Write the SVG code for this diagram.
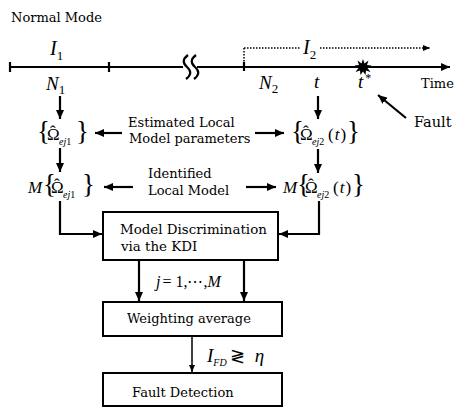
<svg xmlns="http://www.w3.org/2000/svg" width="456" height="408" viewBox="0 0 456 408">
<style>
.t{font-family:"DejaVu Serif","Liberation Serif",serif;font-size:13px;fill:#000}
.mi{font-family:"Liberation Serif","DejaVu Serif",serif;font-style:italic;fill:#000}
.mr{font-family:"Liberation Serif","DejaVu Serif",serif;fill:#000}
.br{font-size:27px}
.om{font-size:17px}
.it{font-style:italic}
.sb{font-size:10px;font-style:italic}
.ln{stroke:#000;stroke-width:2.2;fill:none}
.thin{stroke:#000;stroke-width:1.5;fill:none}
.dot{stroke:#000;stroke-width:1.5;fill:none;stroke-dasharray:1.5 1.5}
.box{fill:#fff;stroke:#000;stroke-width:2}
</style>
<defs>
<marker id="ah" markerUnits="userSpaceOnUse" markerWidth="9" markerHeight="8" refX="9" refY="4" orient="auto"><path d="M0,0 L9,4 L0,8 z" fill="#000"/></marker>
<marker id="as" markerUnits="userSpaceOnUse" markerWidth="7" markerHeight="6" refX="7" refY="3" orient="auto"><path d="M0,0 L7,3 L0,6 z" fill="#000"/></marker>
</defs>
<rect width="456" height="408" fill="#fff"/>

<g id="timeline">
<text class="t" x="11" y="22">Normal Mode</text>
<line class="ln" x1="10" y1="67" x2="183" y2="67"/>
<line class="ln" x1="10" y1="62" x2="10" y2="72"/>
<line class="ln" x1="109" y1="62" x2="109" y2="72"/>
<path class="ln" d="M188,55 Q180,61 187,67 Q194,73 186,79"/>
<path class="ln" d="M196,55 Q188,61 195,67 Q202,73 194,79"/>
<line class="ln" x1="197" y1="67" x2="450" y2="67" marker-end="url(#ah)"/>
<line class="ln" x1="244" y1="62" x2="244" y2="71"/>
<line class="dot" x1="244" y1="48" x2="244" y2="62"/>
<line class="dot" x1="244" y1="48" x2="300" y2="48"/>
<line class="dot" x1="320" y1="48" x2="430" y2="48" marker-end="url(#as)"/>
<polygon fill="#000" points="363,59 364.5,63.5 368.5,60.5 367,65 371.5,65.5 367.5,68 370.5,72 366,70.5 365.5,75 363,71.5 360.5,75 360,70.5 355.5,72 358.5,68 354.5,65.5 359,65 357.5,60.5 361.5,63.5"/>
<text class="mi" x="50" y="55" font-size="20">I<tspan style="font-style:normal;font-size:13px" dy="5">1</tspan></text>
<text class="mi" x="303" y="54" font-size="20">I<tspan style="font-style:normal;font-size:13px" dy="5">2</tspan></text>
<text class="mi" x="46" y="90" font-size="19">N<tspan style="font-style:normal;font-size:13px" dy="4">1</tspan></text>
<text class="mi" x="259" y="89" font-size="19">N<tspan style="font-style:normal;font-size:13px" dy="4">2</tspan></text>
<text class="mi" x="314" y="88" font-size="19">t</text>
<text class="mi" x="358" y="88" font-size="19">t<tspan style="font-style:normal;font-size:12px" dx="2" dy="-6">*</tspan></text>
<text class="t" x="421" y="88">Time</text>
<text class="t" x="414" y="127" style="font-size:14.5px">Fault</text>
</g>

<g id="omega1">
<text class="mr" y="140"><tspan class="br" x="37">{</tspan><tspan class="om" x="47">Ω</tspan><tspan class="om" x="50" dy="-3">ˆ</tspan><tspan class="sb" x="59" dy="8">ej</tspan><tspan font-size="10">1</tspan><tspan class="br" x="76" dy="-5">}</tspan></text>
</g>

<g id="omega2">
<text class="mr" y="140"><tspan class="br" x="291">{</tspan><tspan class="om" x="300">Ω</tspan><tspan class="om" x="303" dy="-3">ˆ</tspan><tspan class="sb" x="312" dy="8">ej</tspan><tspan font-size="10">2</tspan><tspan class="om" x="328" dy="-5">(</tspan><tspan class="om it" dx="1">t</tspan><tspan class="om" dx="1">)</tspan><tspan class="br" x="347">}</tspan></text>
</g>

<g id="model1">
<text class="mr" y="193"><tspan class="om it" x="28">M</tspan><tspan class="br" x="43">{</tspan><tspan class="om" x="51">Ω</tspan><tspan class="om" x="54" dy="-3">ˆ</tspan><tspan class="sb" x="63" dy="8">ej</tspan><tspan font-size="10">1</tspan><tspan class="br" x="82" dy="-5">}</tspan></text>
</g>

<g id="model2">
<text class="mr" y="193"><tspan class="om it" x="283">M</tspan><tspan class="br" x="297">{</tspan><tspan class="om" x="305">Ω</tspan><tspan class="om" x="308" dy="-3">ˆ</tspan><tspan class="sb" x="317" dy="8">ej</tspan><tspan font-size="10">2</tspan><tspan class="om" x="333" dy="-5">(</tspan><tspan class="om it" dx="1">t</tspan><tspan class="om" dx="1">)</tspan><tspan class="br" x="352">}</tspan></text>
</g>

<g id="label-estimated">
<text class="t" x="128" y="127">Estimated Local</text>
<text class="t" x="129" y="143">Model parameters</text>
</g>

<g id="label-identified">
<text class="t" x="148" y="178">Identified</text>
<text class="t" x="148" y="195">Local Model</text>
</g>

<g id="box-kdi">
<rect class="box" x="103" y="212" width="175" height="48"/>
<text class="t" x="120" y="234" style="font-size:13.4px">Model Discrimination</text>
<text class="t" x="121" y="251" style="font-size:13.4px">via the KDI</text>
</g>

<g id="label-j">
<text class="mi" x="156" y="287" font-size="16">j<tspan style="font-style:normal" dx="2">= 1,⋯,</tspan>M</text>
</g>

<g id="box-weight">
<rect class="box" x="103" y="302" width="179" height="34"/>
<text class="t" x="127" y="323">Weighting average</text>
</g>

<g id="label-ifd">
<text class="mi" x="207" y="362" font-size="19">I<tspan style="font-size:10px" dy="4">FD</tspan><tspan style="font-style:normal;font-size:18px" dx="3" dy="-4">≷</tspan><tspan dx="10">η</tspan></text>
</g>

<g id="box-fault">
<rect class="box" x="103" y="373" width="179" height="33"/>
<text class="t" x="132" y="397">Fault Detection</text>
</g>

<g id="connectors">
<line class="ln" x1="406" y1="118" x2="378" y2="95" marker-end="url(#ah)"/>
<line class="ln" x1="60" y1="96" x2="60" y2="119" marker-end="url(#ah)"/>
<line class="ln" x1="318" y1="96" x2="318" y2="119" marker-end="url(#ah)"/>
<line class="ln" x1="60" y1="148" x2="60" y2="172" marker-end="url(#ah)"/>
<line class="ln" x1="318" y1="149" x2="318" y2="173" marker-end="url(#ah)"/>
<line class="ln" x1="122" y1="133" x2="95" y2="133" marker-end="url(#ah)"/>
<line class="ln" x1="255" y1="133" x2="284" y2="133" marker-end="url(#ah)"/>
<line class="ln" x1="133" y1="187" x2="104" y2="187" marker-end="url(#ah)"/>
<line class="ln" x1="246" y1="187" x2="276" y2="187" marker-end="url(#ah)"/>
<polyline class="ln" points="60,201 60,234 102,234" marker-end="url(#ah)"/>
<polyline class="ln" points="319,201 319,234 279,234" marker-end="url(#ah)"/>
<line class="ln" x1="139" y1="261" x2="139" y2="301" marker-end="url(#ah)"/>
<line class="ln" x1="244" y1="261" x2="244" y2="301" marker-end="url(#ah)"/>
<line class="thin" x1="192" y1="337" x2="192" y2="372" marker-end="url(#as)"/>
</g>
</svg>
